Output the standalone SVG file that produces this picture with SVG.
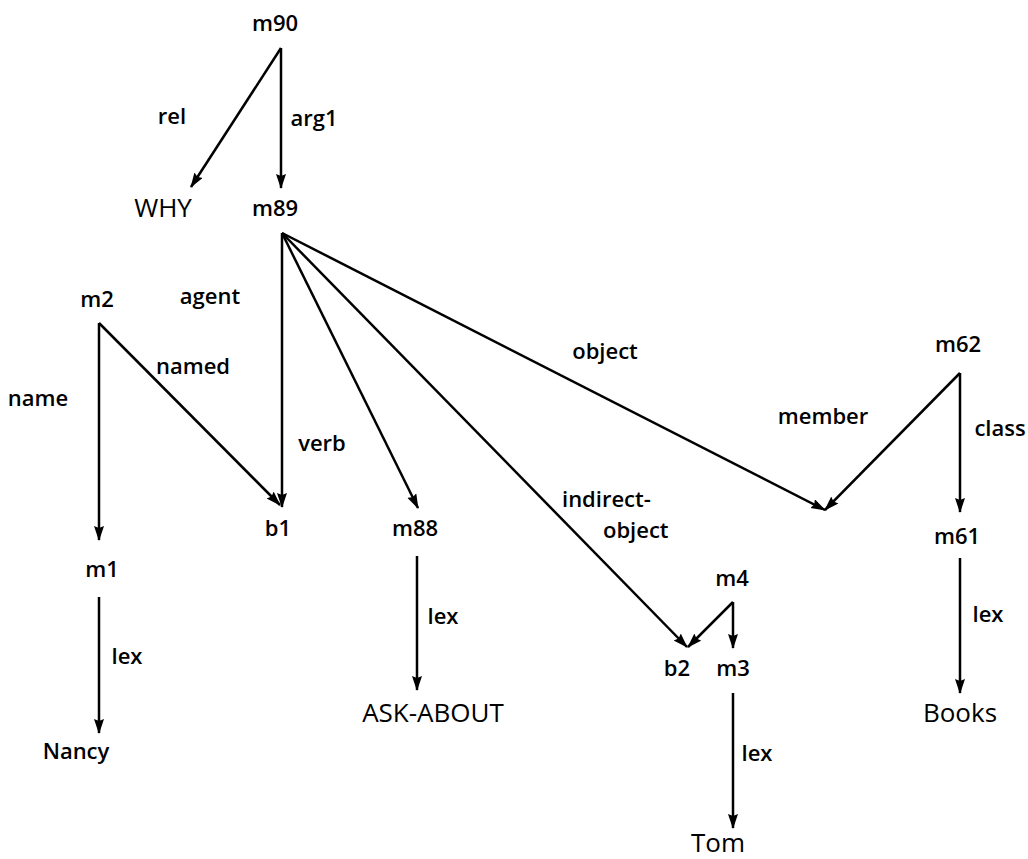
<svg xmlns="http://www.w3.org/2000/svg" width="1028" height="859" viewBox="0 0 1028 859">
  <style>
    text { font-family: "Open Sans", "Liberation Sans", sans-serif; fill: #000; dominant-baseline: central; text-anchor: middle; }
    .n { font-size: 22px; font-weight: 600; }
    .w { font-size: 26px; font-weight: 400; }
    .l { font-size: 22px; font-weight: 600; }
    .lt { text-anchor: start; }
    .e { stroke: #000; stroke-width: 2.5; fill: none; marker-end: url(#arr); }
  </style>
  <defs>
    <marker id="arr" markerUnits="userSpaceOnUse" markerWidth="16" markerHeight="12" refX="14" refY="5" orient="auto">
      <path d="M0,0 L15,5 L0,10 L2,5 z" fill="#000"/>
    </marker>
  </defs>
  <rect width="1028" height="859" fill="#fff"/>

  <!-- connectors -->
  <g id="edges">
    <line class="e" x1="281" y1="48" x2="191" y2="187"/>
    <line class="e" x1="281" y1="48" x2="281" y2="188"/>
    <line class="e" x1="282" y1="233" x2="282" y2="507"/>
    <line class="e" x1="282" y1="233" x2="418" y2="508"/>
    <line class="e" x1="282" y1="233" x2="687" y2="647"/>
    <line class="e" x1="282" y1="233" x2="825" y2="510"/>
    <line class="e" x1="960" y1="373" x2="825" y2="510"/>
    <line class="e" x1="960" y1="373" x2="960" y2="512"/>
    <line class="e" x1="99" y1="323" x2="280" y2="505"/>
    <line class="e" x1="99" y1="323" x2="99" y2="540"/>
    <line class="e" x1="99" y1="597" x2="99" y2="733"/>
    <line class="e" x1="417" y1="556" x2="417" y2="690"/>
    <line class="e" x1="733" y1="602" x2="688" y2="647"/>
    <line class="e" x1="733" y1="602" x2="733" y2="648"/>
    <line class="e" x1="733" y1="693" x2="733" y2="828"/>
    <line class="e" x1="960" y1="558" x2="960" y2="693"/>
  </g>

  <!-- edge labels -->
  <g id="edge-labels">
    <text class="l" x="172" y="115">rel</text>
    <text class="l" x="314" y="117">arg1</text>
    <text class="l" x="210" y="295">agent</text>
    <text class="l" x="193" y="365">named</text>
    <text class="l" x="38" y="397">name</text>
    <text class="l" x="322" y="442">verb</text>
    <text class="l" x="605" y="350">object</text>
    <text class="l" x="823" y="415">member</text>
    <text class="l" x="1000" y="427">class</text>
    <text class="l lt" x="562" y="498">indirect-</text>
    <text class="l lt" x="603" y="529">object</text>
    <text class="l" x="127" y="655">lex</text>
    <text class="l" x="443" y="615">lex</text>
    <text class="l" x="757" y="752">lex</text>
    <text class="l" x="988" y="613">lex</text>
  </g>

  <!-- nodes -->
  <g id="m90"><text class="n" x="275" y="22">m90</text></g>
  <g id="WHY"><text class="w" x="163" y="207">WHY</text></g>
  <g id="m89"><text class="n" x="275" y="207">m89</text></g>
  <g id="m2"><text class="n" x="97" y="298">m2</text></g>
  <g id="m62"><text class="n" x="958" y="343">m62</text></g>
  <g id="b1"><text class="n" x="278" y="527">b1</text></g>
  <g id="m88"><text class="n" x="415" y="527">m88</text></g>
  <g id="m61"><text class="n" x="957" y="535">m61</text></g>
  <g id="m1"><text class="n" x="102" y="568">m1</text></g>
  <g id="m4"><text class="n" x="732" y="577">m4</text></g>
  <g id="b2"><text class="n" x="677" y="667">b2</text></g>
  <g id="m3"><text class="n" x="733" y="667">m3</text></g>
  <g id="ASK-ABOUT"><text class="w" x="433" y="712">ASK-ABOUT</text></g>
  <g id="Books"><text class="w" x="960" y="712">Books</text></g>
  <g id="Nancy"><text class="n" x="76" y="750">Nancy</text></g>
  <g id="Tom"><text class="w" x="718" y="842">Tom</text></g>
</svg>
